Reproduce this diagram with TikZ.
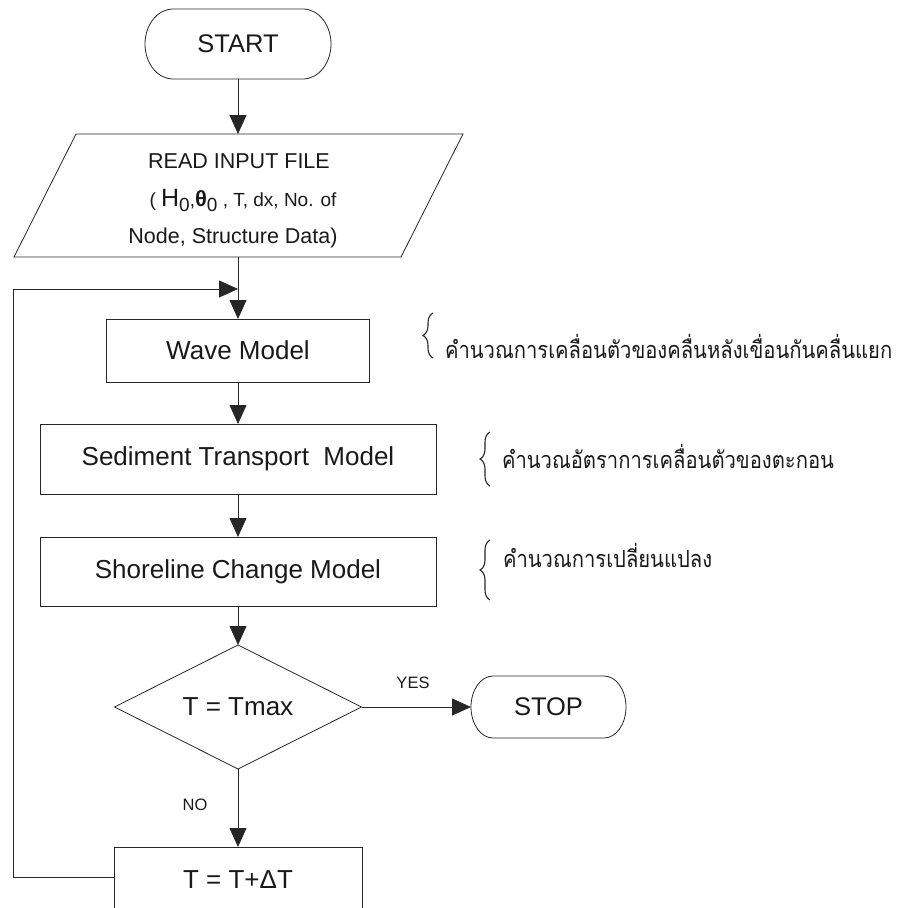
\documentclass[tikz,border=0pt]{standalone}
\usepackage{fontspec}
\setmainfont{Liberation Sans}
\newfontfamily\thaifont[Script=Thai]{Loma}
\usetikzlibrary{arrows.meta,shapes.geometric,decorations.pathreplacing}
\newcommand\myfs[1]{\fontsize{#1}{#1}\selectfont}
\newcommand\thaitext[1]{\scalebox{0.86}[1]{#1}}
\newcommand\pill[3]{%
  \draw[line] ([xshift=#2pt]#1.north west) -- ([xshift=-#2pt]#1.north east)
    arc[start angle=90,end angle=-90,x radius=#2pt,y radius=#3pt]
    -- ([xshift=#2pt]#1.south west)
    arc[start angle=270,end angle=90,x radius=#2pt,y radius=#3pt] -- cycle;}
\begin{document}
\begin{tikzpicture}[x=1pt,y=1pt,
  line/.style={draw=black!85, line width=0.8pt},
  arr/.style={line, -{Triangle[length=19pt,width=17pt]}},
  txt/.style={text=black!90, inner sep=0pt, outer sep=0pt},
  box/.style={line, txt, rectangle, font=\myfs{26}},
  term/.style={txt, rectangle, font=\myfs{25.5}},
  lbl/.style={txt, font=\myfs{16.5}},
  thai/.style={txt, font=\thaifont\myfs{23.5}, anchor=base west},
  brc/.style={draw=black!85, line width=1.1pt, decorate, decoration={brace, amplitude=10pt}}
]
\useasboundingbox (0,0) rectangle (898,-908);
\clip (0,0) rectangle (898,-908);
% start
\node[term, minimum width=186pt, minimum height=70pt] (start) at (238,-44) {START};
\pill{start}{28}{35}
% input parallelogram
\node[txt, minimum width=330pt, minimum height=123pt] (read) at (238,-195.5) {};
\draw[line] (76,-134) -- (463,-134) -- (401,-257) -- (14,-257) -- cycle;
\node[txt, anchor=base, font=\myfs{21.5}] (r1) at (239,-168) {READ INPUT FILE};
\node[txt, anchor=base, font=\myfs{19}] (r2) at (243,-206)
  {( {\myfs{25}H}\raisebox{-5pt}{\myfs{19}0},{\bfseries\myfs{22}θ}\raisebox{-5pt}{\myfs{19}0} , T, dx, No. of};
\node[txt, anchor=base, font=\myfs{21.5}] (r3) at (233,-243) {Node, Structure Data)};
% process boxes
\node[box, minimum width=263pt, minimum height=63pt] (wave) at (238,-350.5) {Wave Model};
\node[box, minimum width=396pt, minimum height=70pt] (sed) at (238,-459) {Sediment Transport\ \ Model};
\node[box, minimum width=396pt, minimum height=69pt] (shore) at (238,-571.5) {Shoreline Change Model};
\node[line, txt, diamond, aspect=2, minimum width=247pt, minimum height=124pt, font=\myfs{26}] (dec) at (238,-707) {T = Tmax};
\node[term, minimum width=155pt, minimum height=62pt] (stop) at (548.5,-707) {STOP};
\pill{stop}{22}{31}
\node[box, minimum width=248pt, minimum height=66pt] (tbox) at (238,-880) {\raisebox{-5pt}{T = T+ΔT}};
% labels
\node[lbl] (yes) at (413,-683) {YES};
\node[lbl] (no) at (195,-805) {NO};
% connectors
\coordinate (join) at (238,-289);
\coordinate (lb) at (13,-877);
\coordinate (lt) at (13,-289);
\draw[arr] (start.south) -- (read.north);
\draw[arr] (read.south) -- (wave.north);
\draw[arr] ([yshift=3pt]tbox.west) -- (lb) -- (lt) -- (join);
\draw[arr] (wave.south) -- (sed.north);
\draw[arr] (sed.south) -- (shore.north);
\draw[arr] (shore.south) -- (dec.north);
\draw[arr] (dec.east) -- (stop.west);
\draw[arr] (dec.south) -- (tbox.north);
% notes
\draw[brc] (433,-358) -- (433,-313);
\draw[brc] (490,-486) -- (490,-432);
\draw[brc] (490,-600) -- (490,-540);
\node[thai] (th1) at (445,-358) {\thaitext{คำนวณการเคลื่อนตัวของคลื่นหลังเขื่อนกันคลื่นแยก}};
\node[thai] (th2) at (502,-468) {\thaitext{คำนวณอัตราการเคลื่อนตัวของตะกอน}};
\node[thai] (th3) at (503,-567) {\thaitext{คำนวณการเปลี่ยนแปลง}};
\end{tikzpicture}
\end{document}
